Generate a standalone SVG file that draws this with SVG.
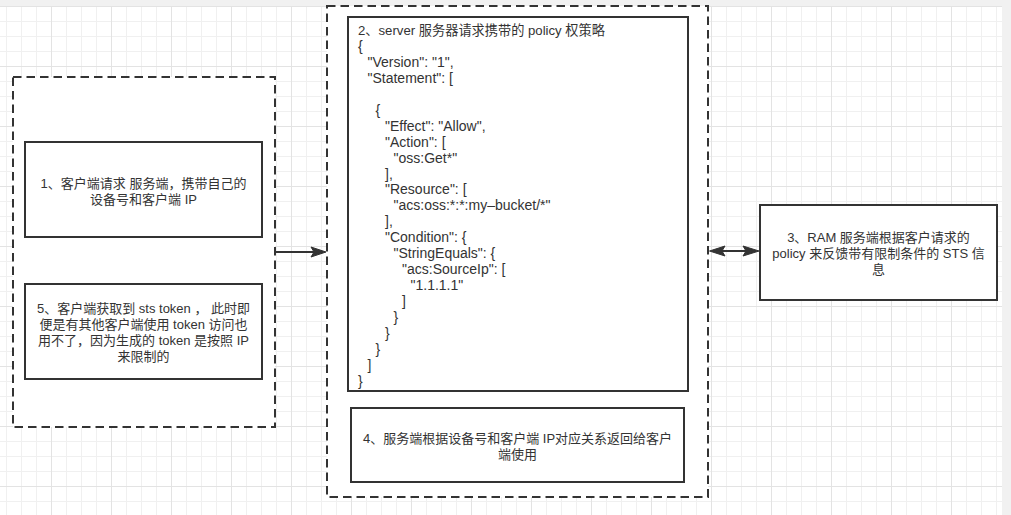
<svg xmlns="http://www.w3.org/2000/svg" width="1011" height="515" viewBox="0 0 1011 515">
<defs>
<pattern id="grid" patternUnits="userSpaceOnUse" x="51" y="6" width="60" height="60">
<rect x="15" y="0" width="1" height="60" fill="#f0f0f0"/>
<rect x="30" y="0" width="1" height="60" fill="#f0f0f0"/>
<rect x="45" y="0" width="1" height="60" fill="#f0f0f0"/>
<rect x="0" y="15" width="60" height="1" fill="#f0f0f0"/>
<rect x="0" y="30" width="60" height="1" fill="#f0f0f0"/>
<rect x="0" y="45" width="60" height="1" fill="#f0f0f0"/>
<rect x="0" y="0" width="1" height="60" fill="#e3e3e3"/>
<rect x="0" y="0" width="60" height="1" fill="#e3e3e3"/>
</pattern>
<style>
.box{fill:#fff;stroke:#333;stroke-width:2}
.group{fill:#fff;stroke:#333;stroke-width:2;stroke-dasharray:8.5 5}
.t{font-family:"Liberation Sans","Noto Sans CJK SC",sans-serif;font-size:13px;fill:#333;text-anchor:middle}
.code{font-family:"Liberation Sans","Noto Sans CJK SC",sans-serif;font-size:14px;fill:#333}
.conn{stroke:#333;stroke-width:2;fill:none}
.head{fill:#333;stroke:#333;stroke-width:1}
</style>
</defs>
<rect x="0" y="0" width="1011" height="515" fill="#fff"/>
<rect x="0" y="0" width="1011" height="515" fill="url(#grid)"/>
<rect x="0" y="0" width="1011" height="6" fill="#f1f1f1"/>
<rect x="1002" y="0" width="9" height="515" fill="#f1f1f1"/>

<g id="client-group">
<rect class="group" x="13" y="77" width="262" height="350"/>
</g>
<g id="server-group">
<rect class="group" x="327" y="6" width="381" height="491"/>
</g>

<g id="node1">
<rect class="box" x="25" y="142" width="237" height="95"/>
<text class="t" x="143.5" y="188">1、客户端请求 服务端，携带自己的</text>
<text class="t" x="143.5" y="204">设备号和客户端 IP</text>
</g>

<g id="node5">
<rect class="box" x="25" y="284" width="237" height="95"/>
<text class="t" x="143.5" y="313">5、客户端获取到 sts token ， 此时即</text>
<text class="t" x="143.5" y="329">便是有其他客户端使用 token 访问也</text>
<text class="t" x="143.5" y="345">用不了，因为生成的 token 是按照 IP</text>
<text class="t" x="143.5" y="361">来限制的</text>
</g>

<g id="node2">
<rect class="box" x="348" y="17" width="340" height="374"/>
<text class="code" x="358" y="35" style="font-size:13.2px">2、server 服务器请求携带的 policy 权策略</text>
<text class="code" x="358" y="50.9">{</text>
<text class="code" x="367.5" y="66.9">"Version": "1",</text>
<text class="code" x="367.5" y="82.8">"Statement": [</text>
<text class="code" x="375.5" y="114.7">{</text>
<text class="code" x="385" y="130.6">"Effect": "Allow",</text>
<text class="code" x="385" y="146.6">"Action": [</text>
<text class="code" x="393.5" y="162.5">"oss:Get*"</text>
<text class="code" x="385" y="178.5">],</text>
<text class="code" x="385" y="194.4">"Resource": [</text>
<text class="code" x="393.5" y="210.3">"acs:oss:*:*:my–bucket/*"</text>
<text class="code" x="385" y="226.3">],</text>
<text class="code" x="385" y="242.2">"Condition": {</text>
<text class="code" x="393.5" y="258.2">"StringEquals": {</text>
<text class="code" x="402" y="274.1">"acs:SourceIp": [</text>
<text class="code" x="410.5" y="290">"1.1.1.1"</text>
<text class="code" x="402" y="306">]</text>
<text class="code" x="393.5" y="321.9">}</text>
<text class="code" x="385" y="337.9">}</text>
<text class="code" x="375.5" y="353.8">}</text>
<text class="code" x="367.5" y="369.7">]</text>
<text class="code" x="358" y="385.7">}</text>
</g>

<g id="node4">
<rect class="box" x="351" y="408" width="333" height="74"/>
<text class="t" x="517.5" y="443">4、服务端根据设备号和客户端 IP对应关系返回给客户</text>
<text class="t" x="517.5" y="459">端使用</text>
</g>

<g id="node3">
<rect class="box" x="760" y="205" width="237" height="95"/>
<text class="t" x="878.5" y="241.5">3、RAM 服务端根据客户请求的</text>
<text class="t" x="878.5" y="257.5">policy 来反馈带有限制条件的 STS 信</text>
<text class="t" x="878.5" y="273.5">息</text>
</g>

<g id="connectors">
<line class="conn" x1="276" y1="252" x2="314" y2="252"/>
<path class="head" d="M326,252 L311,247 L314,252 L311,257 Z"/>
<line class="conn" x1="722" y1="251" x2="746" y2="251"/>
<path class="head" d="M709.5,251 L725,246 L722,251 L725,256 Z"/>
<path class="head" d="M759,251 L743,246 L746,251 L743,256 Z"/>
</g>
</svg>
